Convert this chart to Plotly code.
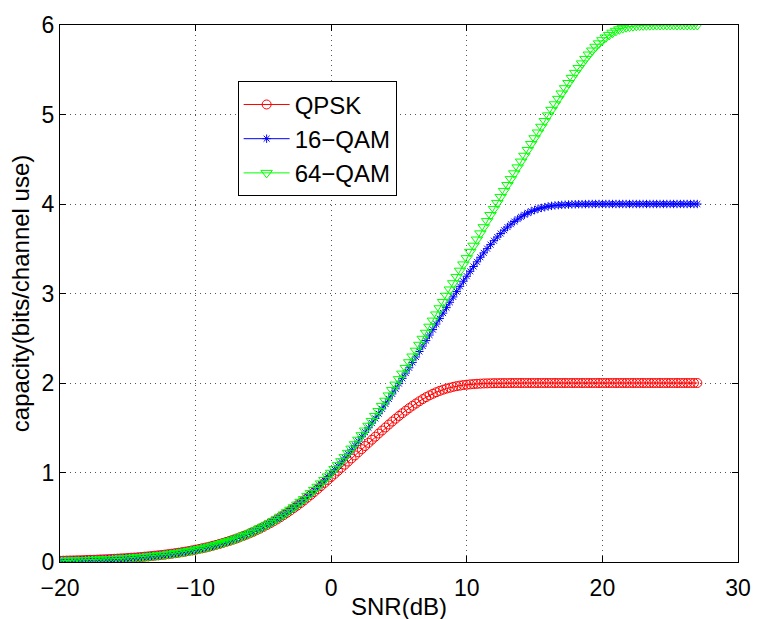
import plotly.graph_objects as go

# SNR sweep (dB)
SNR_DB = [
    -20.0, -19.75, -19.5, -19.25, -19.0, -18.75, -18.5, -18.25,
    -18.0, -17.75, -17.5, -17.25, -17.0, -16.75, -16.5, -16.25,
    -16.0, -15.75, -15.5, -15.25, -15.0, -14.75, -14.5, -14.25,
    -14.0, -13.75, -13.5, -13.25, -13.0, -12.75, -12.5, -12.25,
    -12.0, -11.75, -11.5, -11.25, -11.0, -10.75, -10.5, -10.25,
    -10.0, -9.75, -9.5, -9.25, -9.0, -8.75, -8.5, -8.25,
    -8.0, -7.75, -7.5, -7.25, -7.0, -6.75, -6.5, -6.25,
    -6.0, -5.75, -5.5, -5.25, -5.0, -4.75, -4.5, -4.25,
    -4.0, -3.75, -3.5, -3.25, -3.0, -2.75, -2.5, -2.25,
    -2.0, -1.75, -1.5, -1.25, -1.0, -0.75, -0.5, -0.25,
    0.0, 0.25, 0.5, 0.75, 1.0, 1.25, 1.5, 1.75,
    2.0, 2.25, 2.5, 2.75, 3.0, 3.25, 3.5, 3.75,
    4.0, 4.25, 4.5, 4.75, 5.0, 5.25, 5.5, 5.75,
    6.0, 6.25, 6.5, 6.75, 7.0, 7.25, 7.5, 7.75,
    8.0, 8.25, 8.5, 8.75, 9.0, 9.25, 9.5, 9.75,
    10.0, 10.25, 10.5, 10.75, 11.0, 11.25, 11.5, 11.75,
    12.0, 12.25, 12.5, 12.75, 13.0, 13.25, 13.5, 13.75,
    14.0, 14.25, 14.5, 14.75, 15.0, 15.25, 15.5, 15.75,
    16.0, 16.25, 16.5, 16.75, 17.0, 17.25, 17.5, 17.75,
    18.0, 18.25, 18.5, 18.75, 19.0, 19.25, 19.5, 19.75,
    20.0, 20.25, 20.5, 20.75, 21.0, 21.25, 21.5, 21.75,
    22.0, 22.25, 22.5, 22.75, 23.0, 23.25, 23.5, 23.75,
    24.0, 24.25, 24.5, 24.75, 25.0, 25.25, 25.5, 25.75,
    26.0, 26.25, 26.5, 26.75, 27.0,
]

# Capacity in bits/channel use
CAP_QPSK = [
    0.014, 0.015, 0.016, 0.017, 0.018, 0.019, 0.020, 0.021,
    0.023, 0.024, 0.025, 0.027, 0.029, 0.030, 0.032, 0.034,
    0.036, 0.038, 0.040, 0.042, 0.045, 0.048, 0.050, 0.053,
    0.056, 0.060, 0.063, 0.067, 0.071, 0.075, 0.079, 0.083,
    0.088, 0.093, 0.099, 0.104, 0.110, 0.116, 0.123, 0.130,
    0.138, 0.145, 0.154, 0.162, 0.171, 0.181, 0.191, 0.201,
    0.212, 0.224, 0.236, 0.249, 0.262, 0.276, 0.290, 0.305,
    0.321, 0.337, 0.355, 0.373, 0.392, 0.412, 0.433, 0.454,
    0.476, 0.500, 0.524, 0.550, 0.576, 0.603, 0.630, 0.659,
    0.688, 0.719, 0.750, 0.782, 0.815, 0.848, 0.882, 0.916,
    0.950, 0.984, 1.018, 1.053, 1.087, 1.122, 1.157, 1.191,
    1.226, 1.261, 1.296, 1.331, 1.366, 1.400, 1.435, 1.469,
    1.503, 1.536, 1.569, 1.601, 1.632, 1.662, 1.691, 1.719,
    1.746, 1.771, 1.796, 1.820, 1.842, 1.862, 1.880, 1.897,
    1.912, 1.925, 1.937, 1.947, 1.957, 1.965, 1.971, 1.977,
    1.981, 1.985, 1.988, 1.991, 1.993, 1.995, 1.996, 1.997,
    1.998, 1.998, 1.999, 1.999, 1.999, 2.000, 2.000, 2.000,
    2.000, 2.000, 2.000, 2.000, 2.000, 2.000, 2.000, 2.000,
    2.000, 2.000, 2.000, 2.000, 2.000, 2.000, 2.000, 2.000,
    2.000, 2.000, 2.000, 2.000, 2.000, 2.000, 2.000, 2.000,
    2.000, 2.000, 2.000, 2.000, 2.000, 2.000, 2.000, 2.000,
    2.000, 2.000, 2.000, 2.000, 2.000, 2.000, 2.000, 2.000,
    2.000, 2.000, 2.000, 2.000, 2.000, 2.000, 2.000, 2.000,
    2.000, 2.000, 2.000, 2.000, 2.000,
]

CAP_16QAM = [
    0.014, 0.015, 0.016, 0.017, 0.018, 0.019, 0.020, 0.021,
    0.023, 0.024, 0.025, 0.027, 0.029, 0.030, 0.032, 0.034,
    0.036, 0.038, 0.040, 0.042, 0.045, 0.048, 0.050, 0.053,
    0.056, 0.060, 0.063, 0.067, 0.071, 0.075, 0.079, 0.083,
    0.088, 0.093, 0.099, 0.104, 0.110, 0.116, 0.123, 0.130,
    0.138, 0.145, 0.154, 0.162, 0.171, 0.181, 0.191, 0.201,
    0.212, 0.224, 0.236, 0.249, 0.262, 0.276, 0.291, 0.306,
    0.322, 0.339, 0.357, 0.375, 0.395, 0.415, 0.436, 0.458,
    0.481, 0.505, 0.530, 0.556, 0.583, 0.611, 0.640, 0.670,
    0.700, 0.732, 0.765, 0.800, 0.836, 0.873, 0.911, 0.950,
    0.990, 1.031, 1.073, 1.117, 1.162, 1.207, 1.254, 1.302,
    1.350, 1.399, 1.449, 1.500, 1.552, 1.604, 1.657, 1.711,
    1.766, 1.822, 1.878, 1.935, 1.993, 2.052, 2.111, 2.170,
    2.230, 2.291, 2.352, 2.413, 2.474, 2.536, 2.597, 2.659,
    2.720, 2.781, 2.842, 2.902, 2.962, 3.021, 3.080, 3.137,
    3.193, 3.248, 3.302, 3.354, 3.405, 3.454, 3.501, 3.546,
    3.590, 3.631, 3.670, 3.707, 3.742, 3.774, 3.804, 3.831,
    3.857, 3.880, 3.900, 3.918, 3.933, 3.946, 3.956, 3.965,
    3.973, 3.979, 3.984, 3.987, 3.990, 3.992, 3.994, 3.996,
    3.997, 3.998, 3.998, 3.999, 3.999, 4.000, 4.000, 4.000,
    4.000, 4.000, 4.000, 4.000, 4.000, 4.000, 4.000, 4.000,
    4.000, 4.000, 4.000, 4.000, 4.000, 4.000, 4.000, 4.000,
    4.000, 4.000, 4.000, 4.000, 4.000, 4.000, 4.000, 4.000,
    4.000, 4.000, 4.000, 4.000, 4.000,
]

CAP_64QAM = [
    0.014, 0.015, 0.016, 0.017, 0.018, 0.019, 0.020, 0.021,
    0.023, 0.024, 0.025, 0.027, 0.029, 0.030, 0.032, 0.034,
    0.036, 0.038, 0.040, 0.042, 0.045, 0.048, 0.050, 0.053,
    0.056, 0.060, 0.063, 0.067, 0.071, 0.075, 0.079, 0.083,
    0.088, 0.093, 0.099, 0.104, 0.110, 0.116, 0.123, 0.130,
    0.138, 0.145, 0.154, 0.162, 0.171, 0.181, 0.191, 0.201,
    0.212, 0.224, 0.236, 0.249, 0.262, 0.276, 0.291, 0.306,
    0.322, 0.339, 0.357, 0.376, 0.395, 0.416, 0.437, 0.459,
    0.482, 0.506, 0.531, 0.557, 0.584, 0.612, 0.641, 0.672,
    0.703, 0.736, 0.770, 0.805, 0.841, 0.878, 0.916, 0.956,
    0.997, 1.039, 1.082, 1.126, 1.172, 1.219, 1.267, 1.316,
    1.366, 1.417, 1.469, 1.522, 1.576, 1.631, 1.687, 1.744,
    1.802, 1.861, 1.921, 1.982, 2.043, 2.105, 2.168, 2.232,
    2.296, 2.361, 2.427, 2.494, 2.561, 2.629, 2.697, 2.766,
    2.835, 2.905, 2.975, 3.045, 3.115, 3.185, 3.255, 3.325,
    3.395, 3.465, 3.534, 3.603, 3.672, 3.741, 3.809, 3.877,
    3.945, 4.012, 4.079, 4.146, 4.212, 4.278, 4.343, 4.409,
    4.474, 4.539, 4.604, 4.670, 4.735, 4.799, 4.863, 4.927,
    4.990, 5.052, 5.114, 5.175, 5.235, 5.294, 5.352, 5.409,
    5.465, 5.519, 5.571, 5.621, 5.670, 5.715, 5.757, 5.795,
    5.830, 5.861, 5.889, 5.914, 5.935, 5.952, 5.965, 5.975,
    5.982, 5.987, 5.991, 5.994, 5.996, 5.997, 5.998, 5.999,
    5.999, 6.000, 6.000, 6.000, 6.000, 6.000, 6.000, 6.000,
    6.000, 6.000, 6.000, 6.000, 6.000,
]

X_TICKS = [-20, -10, 0, 10, 20, 30]
Y_TICKS = [0, 1, 2, 3, 4, 5, 6]

FONT = "Liberation Sans, Arial, Helvetica, sans-serif"

series = [
    ("QPSK", CAP_QPSK, "#ff0000", "circle-open", 9),
    ("16\u2212QAM", CAP_16QAM, "#0000ff", "asterisk-open", 7),
    ("64\u2212QAM", CAP_64QAM, "#00ff00", "triangle-down-open", 10),
]

fig = go.Figure()
for name, vals, color, symbol, size in series:
    fig.add_trace(go.Scatter(
        x=SNR_DB, y=vals, name=name, mode="lines+markers",
        line=dict(color=color, width=1),
        marker=dict(symbol=symbol, size=size, color=color,
                    line=dict(color=color, width=1)),
    ))

axis_common = dict(
    showline=True, linecolor="black", linewidth=1, mirror="ticks",
    ticks="inside", ticklen=6, tickcolor="black", tickwidth=1,
    showgrid=True, gridcolor="#555555", gridwidth=1, griddash="1px,4px",
    zeroline=False, tickfont=dict(family=FONT, size=23, color="black"),
)

fig.update_xaxes(range=[-20, 30], tickvals=X_TICKS,
                 ticktext=[str(v).replace("-", "\u2212") for v in X_TICKS],
                 ticklabelstandoff=5, **axis_common)
fig.update_yaxes(range=[0, 6], tickvals=Y_TICKS,
                 ticktext=[str(v) for v in Y_TICKS], **axis_common)

fig.update_layout(
    width=763, height=619,
    margin=dict(l=60, r=15, t=21, b=57),
    paper_bgcolor="white", plot_bgcolor="white",
    font=dict(family=FONT, color="black"),
    showlegend=True,
    legend=dict(
        x=0.262, y=0.895, xanchor="left", yanchor="top",
        bgcolor="white", bordercolor="black", borderwidth=1,
        font=dict(family=FONT, size=24, color="black"),
        itemwidth=46,
    ),
    annotations=[
        dict(text="SNR(dB)", xref="paper", yref="paper",
             x=0.5, y=-0.083, xanchor="center", yanchor="middle",
             showarrow=False, font=dict(family=FONT, size=24, color="black")),
        dict(text="capacity(bits/channel use)", xref="paper", yref="paper",
             x=-0.058, y=0.5, xanchor="center", yanchor="middle",
             textangle=-90, showarrow=False,
             font=dict(family=FONT, size=24, color="black")),
    ],
)

fig.write_html("out.html")
